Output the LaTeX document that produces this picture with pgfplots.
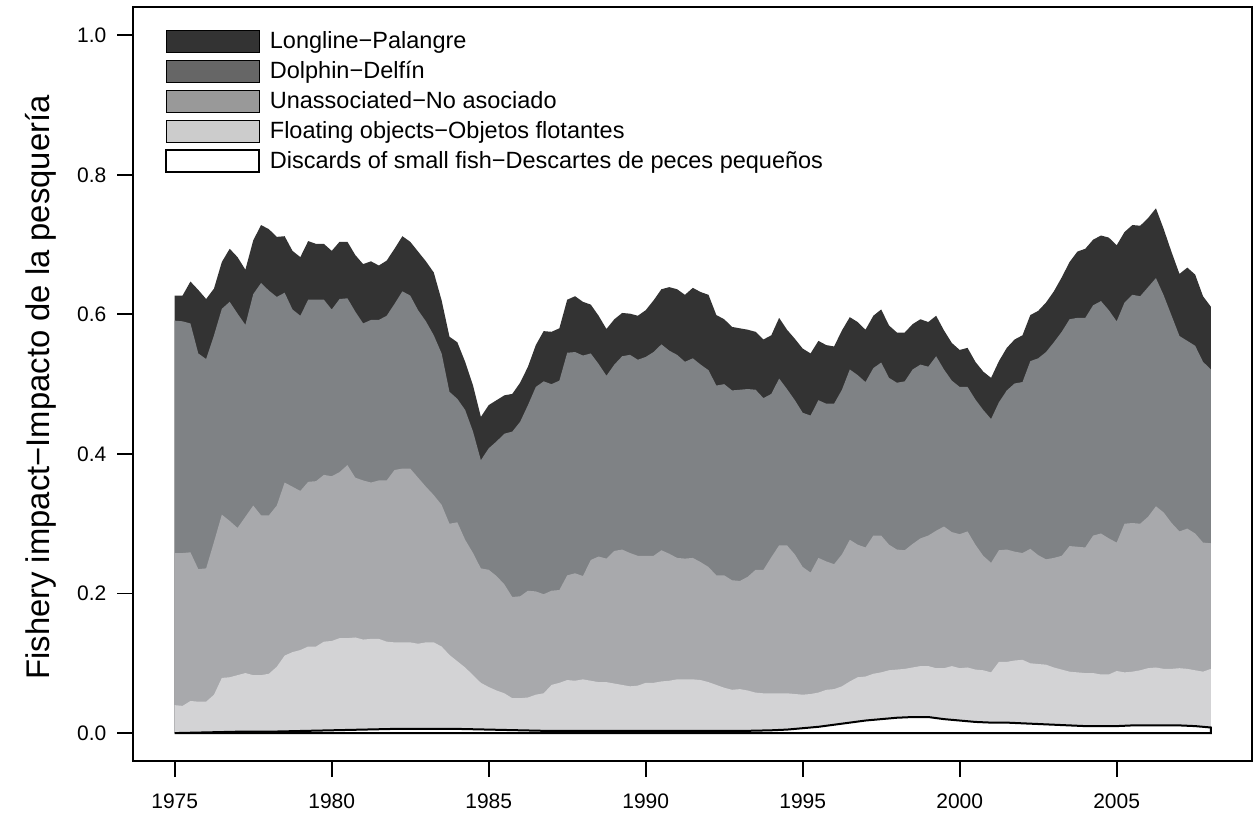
\documentclass[border=0pt]{standalone}
\usepackage{fontspec}
\setmainfont{Liberation Sans}
\usepackage{pgfplots}
\usepackage{pgfplotstable}
\pgfplotsset{compat=1.18}

% plot fills
\definecolor{cLL}{HTML}{333333}
\definecolor{cDO}{HTML}{7F8285}
\definecolor{cUN}{HTML}{A8A9AC}
\definecolor{cFO}{HTML}{D3D3D5}
% legend fills
\definecolor{lDO}{HTML}{666666}
\definecolor{lUN}{HTML}{999999}
\definecolor{lFO}{HTML}{CCCCCC}

% upper edge of each stacked layer (cumulative), quarterly
\pgfplotstableread{
year    total dolphin unassoc floating
1975.00 0.627 0.591 0.258 0.040
1975.25 0.627 0.590 0.258 0.039
1975.50 0.647 0.587 0.259 0.046
1975.75 0.635 0.544 0.235 0.045
1976.00 0.622 0.536 0.236 0.045
1976.25 0.637 0.570 0.274 0.055
1976.50 0.675 0.608 0.313 0.079
1976.75 0.694 0.618 0.304 0.080
1977.00 0.682 0.601 0.294 0.083
1977.25 0.664 0.585 0.310 0.086
1977.50 0.706 0.629 0.326 0.083
1977.75 0.728 0.645 0.312 0.083
1978.00 0.722 0.634 0.312 0.085
1978.25 0.711 0.625 0.326 0.095
1978.50 0.712 0.631 0.359 0.111
1978.75 0.691 0.607 0.353 0.116
1979.00 0.682 0.598 0.347 0.119
1979.25 0.705 0.621 0.360 0.124
1979.50 0.701 0.621 0.361 0.124
1979.75 0.701 0.621 0.370 0.131
1980.00 0.691 0.607 0.368 0.132
1980.25 0.704 0.622 0.374 0.136
1980.50 0.704 0.623 0.384 0.136
1980.75 0.685 0.604 0.366 0.137
1981.00 0.672 0.587 0.362 0.134
1981.25 0.676 0.592 0.359 0.135
1981.50 0.670 0.592 0.362 0.135
1981.75 0.677 0.598 0.362 0.131
1982.00 0.694 0.615 0.377 0.130
1982.25 0.712 0.633 0.379 0.130
1982.50 0.704 0.627 0.379 0.130
1982.75 0.690 0.606 0.366 0.128
1983.00 0.676 0.590 0.353 0.130
1983.25 0.660 0.570 0.341 0.130
1983.50 0.620 0.544 0.327 0.124
1983.75 0.568 0.489 0.300 0.112
1984.00 0.560 0.479 0.302 0.103
1984.25 0.532 0.463 0.277 0.094
1984.50 0.498 0.432 0.258 0.083
1984.75 0.453 0.391 0.236 0.072
1985.00 0.470 0.408 0.234 0.066
1985.25 0.477 0.418 0.225 0.061
1985.50 0.484 0.429 0.213 0.057
1985.75 0.486 0.432 0.195 0.050
1986.00 0.502 0.446 0.196 0.050
1986.25 0.525 0.470 0.204 0.051
1986.50 0.556 0.496 0.203 0.055
1986.75 0.576 0.504 0.199 0.057
1987.00 0.575 0.500 0.204 0.069
1987.25 0.580 0.505 0.205 0.072
1987.50 0.621 0.545 0.226 0.076
1987.75 0.626 0.546 0.229 0.075
1988.00 0.618 0.541 0.225 0.077
1988.25 0.614 0.544 0.248 0.075
1988.50 0.598 0.529 0.253 0.073
1988.75 0.579 0.512 0.250 0.073
1989.00 0.593 0.528 0.261 0.071
1989.25 0.602 0.540 0.263 0.069
1989.50 0.601 0.542 0.258 0.067
1989.75 0.598 0.535 0.254 0.068
1990.00 0.606 0.539 0.254 0.072
1990.25 0.620 0.546 0.254 0.072
1990.50 0.636 0.557 0.262 0.074
1990.75 0.639 0.548 0.257 0.075
1991.00 0.636 0.542 0.251 0.077
1991.25 0.628 0.532 0.250 0.077
1991.50 0.638 0.537 0.251 0.077
1991.75 0.632 0.528 0.245 0.076
1992.00 0.628 0.520 0.238 0.073
1992.25 0.599 0.498 0.226 0.069
1992.50 0.593 0.500 0.226 0.065
1992.75 0.582 0.491 0.219 0.062
1993.00 0.580 0.492 0.218 0.063
1993.25 0.578 0.493 0.224 0.061
1993.50 0.575 0.492 0.234 0.058
1993.75 0.564 0.480 0.234 0.057
1994.00 0.570 0.486 0.252 0.057
1994.25 0.595 0.508 0.269 0.057
1994.50 0.578 0.493 0.269 0.057
1994.75 0.565 0.477 0.256 0.056
1995.00 0.551 0.459 0.238 0.055
1995.25 0.544 0.455 0.230 0.056
1995.50 0.562 0.477 0.251 0.058
1995.75 0.556 0.472 0.246 0.062
1996.00 0.554 0.472 0.242 0.063
1996.25 0.577 0.492 0.256 0.067
1996.50 0.596 0.521 0.277 0.074
1996.75 0.589 0.513 0.270 0.080
1997.00 0.578 0.503 0.266 0.081
1997.25 0.598 0.523 0.283 0.085
1997.50 0.607 0.531 0.283 0.087
1997.75 0.584 0.509 0.270 0.090
1998.00 0.574 0.502 0.263 0.091
1998.25 0.574 0.504 0.262 0.092
1998.50 0.586 0.521 0.271 0.094
1998.75 0.593 0.528 0.279 0.096
1999.00 0.589 0.525 0.283 0.096
1999.25 0.598 0.540 0.290 0.093
1999.50 0.577 0.521 0.296 0.093
1999.75 0.559 0.505 0.288 0.096
2000.00 0.549 0.496 0.285 0.093
2000.25 0.552 0.496 0.289 0.094
2000.50 0.532 0.478 0.270 0.091
2000.75 0.518 0.463 0.254 0.090
2001.00 0.509 0.450 0.244 0.087
2001.25 0.533 0.474 0.262 0.102
2001.50 0.552 0.491 0.263 0.102
2001.75 0.564 0.501 0.260 0.104
2002.00 0.570 0.503 0.258 0.105
2002.25 0.599 0.533 0.264 0.100
2002.50 0.605 0.537 0.255 0.099
2002.75 0.617 0.546 0.249 0.098
2003.00 0.633 0.560 0.251 0.094
2003.25 0.653 0.575 0.254 0.091
2003.50 0.675 0.593 0.268 0.088
2003.75 0.690 0.595 0.267 0.087
2004.00 0.694 0.595 0.266 0.086
2004.25 0.707 0.613 0.283 0.086
2004.50 0.713 0.619 0.286 0.084
2004.75 0.710 0.606 0.279 0.084
2005.00 0.699 0.590 0.273 0.089
2005.25 0.718 0.617 0.300 0.087
2005.50 0.728 0.628 0.301 0.088
2005.75 0.727 0.626 0.300 0.090
2006.00 0.738 0.639 0.310 0.093
2006.25 0.752 0.652 0.325 0.094
2006.50 0.722 0.627 0.316 0.092
2006.75 0.689 0.598 0.301 0.092
2007.00 0.658 0.569 0.289 0.093
2007.25 0.667 0.562 0.293 0.092
2007.50 0.657 0.555 0.286 0.090
2007.75 0.626 0.532 0.273 0.088
2008.00 0.611 0.521 0.272 0.092
}\impact

\begin{document}
\begin{tikzpicture}
\begin{axis}[
    scale only axis,
    width=559.5pt, height=376.85pt,
    xmin=1973.68, xmax=2009.32,
    ymin=-0.04, ymax=1.04,
    axis line style={line width=0.9pt},
    tick pos=left, tick align=outside,
    major tick length=8pt,
    tick style={black, line width=0.9pt},
    xtick={1975,1980,1985,1990,1995,2000,2005},
    xticklabels={1975,1980,1985,1990,1995,2000,2005},
    ytick={0,0.2,0.4,0.6,0.8,1.0},
    yticklabels={0.0,0.2,0.4,0.6,0.8,1.0},
    ticklabel style={font=\fontsize{10.5}{12}\selectfont, inner sep=0pt},
    xticklabel style={yshift=-8pt},
    yticklabel style={xshift=-5.3pt},
    ylabel={Fishery impact−Impacto de la pesquería},
    every axis y label/.style={at={(axis description cs:-0.0753,0.4956)},
        rotate=90, anchor=base, font=\fontsize{16.4}{19}\selectfont},
    legend style={at={(axis description cs:0,1)}, anchor=north west,
        xshift=15.85pt, yshift=-9.85pt, draw=none, fill=none,
        inner sep=0pt, row sep=0.9pt,
        /tikz/every odd column/.append style={column sep=3pt},
        font=\fontsize{11.75}{13}\selectfont},
    legend cell align=left,
    legend image code/.code={\draw[#1] (0pt,-5.5pt) rectangle (46.5pt,5.5pt);},
]
\addlegendimage{fill=cLL, draw=none}
\addlegendentry{Longline−Palangre}
\addlegendimage{fill=lDO, draw=none}
\addlegendentry{Dolphin−Delfín}
\addlegendimage{fill=lUN, draw=none}
\addlegendentry{Unassociated−No asociado}
\addlegendimage{fill=lFO, draw=none}
\addlegendentry{Floating objects−Objetos flotantes}
\addlegendimage{fill=white, draw=black, line width=0.75pt}
\addlegendentry{Discards of small fish−Descartes de peces pequeños}

\addplot[fill=cLL, draw=none, forget plot] table[x=year, y=total] {\impact} \closedcycle;
\addplot[fill=cDO, draw=none, forget plot] table[x=year, y=dolphin] {\impact} \closedcycle;
\addplot[fill=cUN, draw=none, forget plot] table[x=year, y=unassoc] {\impact} \closedcycle;
\addplot[fill=cFO, draw=none, forget plot] table[x=year, y=floating] {\impact} \closedcycle;
% discards of small fish
\addplot[fill=white, draw=black, line width=1pt, forget plot] coordinates {
(1975,0.000) (1976,0.001) (1977,0.002) (1978,0.002) (1979,0.003) (1980,0.004)
(1981,0.005) (1982,0.006) (1983,0.006) (1984,0.006) (1985,0.005) (1986,0.004)
(1987,0.003) (1988,0.003) (1989,0.003) (1990,0.003) (1991,0.003) (1992,0.003)
(1993,0.003) (1994,0.004) (1994.5,0.005) (1995,0.007) (1995.5,0.009)
(1996,0.012) (1996.5,0.015) (1997,0.018) (1997.5,0.020) (1998,0.022)
(1998.5,0.023) (1999,0.023) (1999.5,0.020) (2000,0.018) (2000.5,0.016)
(2001,0.015) (2001.5,0.015) (2002,0.014) (2002.5,0.013) (2003,0.012)
(2003.5,0.011) (2004,0.010) (2004.5,0.010) (2005,0.010) (2005.5,0.011)
(2006,0.011) (2006.5,0.011) (2007,0.011) (2007.5,0.010) (2008,0.008)
} \closedcycle;
\end{axis}
\pgfresetboundingbox
\path ([xshift=-66.65pt,yshift=-27.5pt]current axis.south west) rectangle ++(626.5pt,408pt);
\end{tikzpicture}
\end{document}
